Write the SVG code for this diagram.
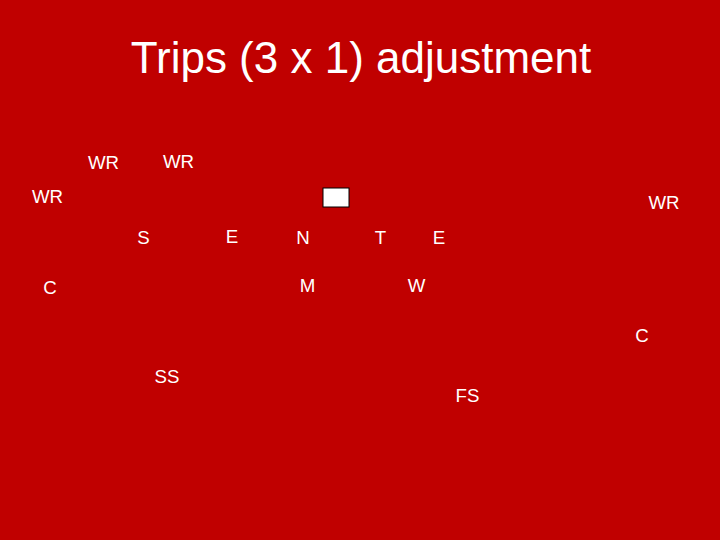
<svg xmlns="http://www.w3.org/2000/svg" width="720" height="540" viewBox="0 0 720 540">
<style>
.lbl{font-family:"Liberation Sans",Arial,sans-serif;font-size:18.7px;fill:#ffffff;text-anchor:middle}
.title{font-family:"Liberation Sans",Arial,sans-serif;font-size:44px;fill:#ffffff;text-anchor:middle}
</style>
<rect x="0" y="0" width="720" height="540" fill="#c00000"/>
<text class="title" x="361" y="73">Trips (3 x 1) adjustment</text>
<g id="ball"><rect x="323" y="188" width="26" height="19" fill="#ffffff" stroke="#000000" stroke-width="1"/></g>
<g id="wr1"><text class="lbl" x="103.5" y="169">WR</text></g>
<g id="wr2"><text class="lbl" x="178.5" y="168">WR</text></g>
<g id="wr3"><text class="lbl" x="47.5" y="203">WR</text></g>
<g id="wr4"><text class="lbl" x="664" y="209">WR</text></g>
<g id="s"><text class="lbl" x="143.5" y="244">S</text></g>
<g id="e1"><text class="lbl" x="232" y="243">E</text></g>
<g id="n"><text class="lbl" x="303" y="244">N</text></g>
<g id="t"><text class="lbl" x="380.5" y="244">T</text></g>
<g id="e2"><text class="lbl" x="439" y="244">E</text></g>
<g id="c1"><text class="lbl" x="50" y="294">C</text></g>
<g id="m"><text class="lbl" x="307.5" y="291.5">M</text></g>
<g id="w"><text class="lbl" x="416.5" y="292">W</text></g>
<g id="c2"><text class="lbl" x="642" y="342">C</text></g>
<g id="ss"><text class="lbl" x="167" y="383">SS</text></g>
<g id="fs"><text class="lbl" x="467.5" y="402">FS</text></g>
<g id="connectors"></g>
</svg>
